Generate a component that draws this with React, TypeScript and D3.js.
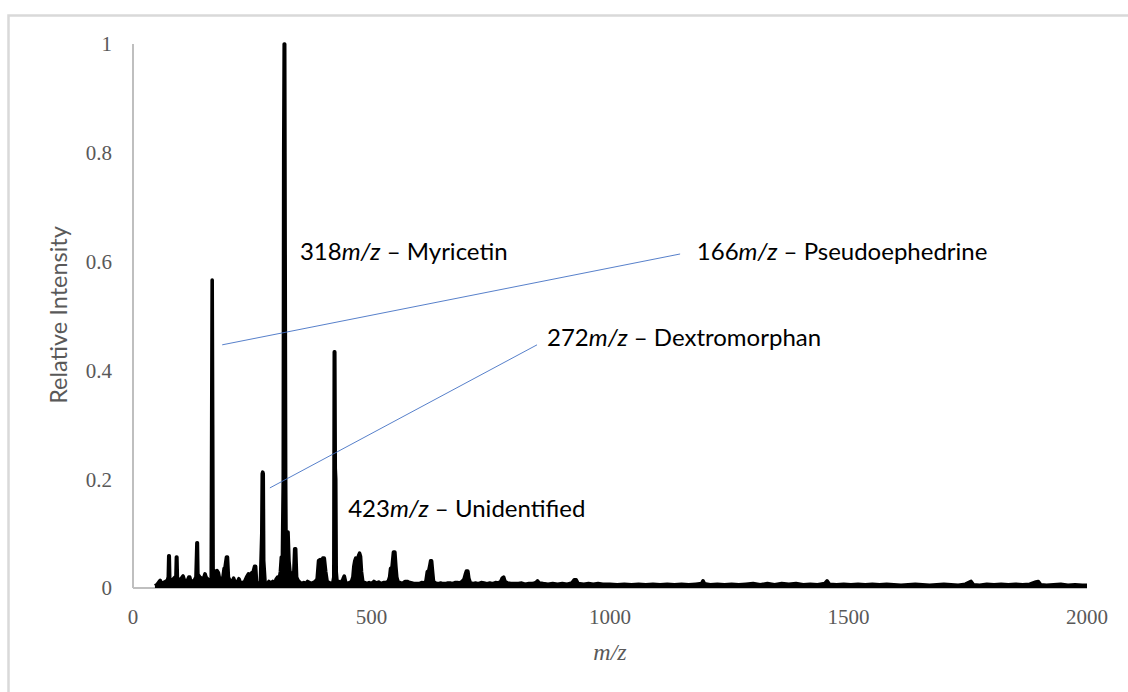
import React from "react";
import * as d3 from "d3";

// Mass spectrum, relative intensity vs m/z, split into three scan ranges.
const lowMassScan: [number, number][] = [
  [46, 0.004], [50, 0.006], [55, 0.012], [57, 0.014], [60, 0.008], [64, 0.01], [68, 0.012],
  [72, 0.014], [74, 0.02], [75, 0.059], [76, 0.059], [77, 0.018], [80, 0.012], [84, 0.016],
  [88, 0.02], [90, 0.02], [91, 0.057], [92, 0.057], [93, 0.02], [96, 0.014], [100, 0.016],
  [103, 0.02], [105, 0.022], [107, 0.016], [110, 0.012], [114, 0.014], [117, 0.02], [119, 0.02],
  [121, 0.012], [125, 0.012], [129, 0.015], [132, 0.02], [134, 0.083], [135, 0.083], [136, 0.025],
  [140, 0.02], [144, 0.018], [148, 0.018], [151, 0.026], [153, 0.02], [157, 0.016], [160, 0.012],
  [164, 0.01], [165, 0.3], [166, 0.566], [167, 0.3], [168, 0.02], [172, 0.03], [176, 0.032],
  [179, 0.028], [183, 0.01], [186, 0.012], [189, 0.022], [191, 0.036], [193, 0.038], [196, 0.057],
  [198, 0.057], [200, 0.02], [204, 0.012], [208, 0.012], [211, 0.018], [214, 0.01], [218, 0.01],
  [222, 0.017], [226, 0.008], [230, 0.01], [234, 0.012], [238, 0.02], [242, 0.026], [246, 0.024],
  [249, 0.028], [252, 0.03], [255, 0.04], [257, 0.04], [259, 0.012], [262, 0.008], [267, 0.006],
  [270, 0.1], [271, 0.21], [272, 0.213], [273, 0.21], [274, 0.05], [277, 0.008], [281, 0.006],
  [285, 0.012], [289, 0.008], [293, 0.012], [297, 0.008], [300, 0.016], [303, 0.02], [306, 0.014],
  [309, 0.03], [311, 0.057], [313, 0.04], [315, 0.2], [316, 0.8], [317, 1.0], [318, 1.0],
  [319, 0.6], [320, 0.2], [321, 0.06], [323, 0.103], [325, 0.103], [327, 0.05], [329, 0.03],
  [332, 0.027], [334, 0.02], [337, 0.025], [339, 0.072], [341, 0.072], [343, 0.02], [346, 0.014],
];

const midMassScan: [number, number][] = [
  [350, 0.01], [354, 0.008], [358, 0.01], [362, 0.008], [366, 0.012], [370, 0.01], [374, 0.008],
  [378, 0.01], [382, 0.012], [386, 0.016], [389, 0.05], [392, 0.052], [395, 0.048], [398, 0.055],
  [401, 0.055], [404, 0.03], [407, 0.012], [411, 0.01], [415, 0.008], [419, 0.01], [421, 0.02],
  [422, 0.434], [423, 0.434], [424, 0.22], [425, 0.2], [426, 0.03], [428, 0.01], [432, 0.012],
  [436, 0.01], [440, 0.016], [443, 0.022], [446, 0.01], [450, 0.008], [454, 0.01], [458, 0.012],
  [461, 0.02], [463, 0.04], [465, 0.05], [467, 0.055], [470, 0.05], [473, 0.06], [475, 0.064],
  [477, 0.058], [479, 0.03], [482, 0.01], [486, 0.01], [490, 0.008], [495, 0.01], [500, 0.008],
  [505, 0.012], [510, 0.009], [515, 0.011], [520, 0.008], [525, 0.01], [530, 0.01], [535, 0.012],
  [538, 0.02], [540, 0.036], [543, 0.038], [546, 0.066], [549, 0.066], [551, 0.04], [553, 0.02],
  [556, 0.01], [560, 0.01], [565, 0.008], [570, 0.012], [575, 0.012], [580, 0.01], [585, 0.009],
  [590, 0.008], [595, 0.008], [600, 0.008], [605, 0.01], [610, 0.009], [614, 0.012], [617, 0.03],
  [620, 0.032], [622, 0.04], [624, 0.05], [626, 0.05], [628, 0.03], [630, 0.012], [634, 0.009],
  [640, 0.008], [645, 0.009], [650, 0.008], [655, 0.008], [660, 0.009], [665, 0.009], [670, 0.008],
  [675, 0.01], [680, 0.01], [685, 0.009], [690, 0.012], [694, 0.016], [697, 0.026], [699, 0.031],
  [702, 0.031], [704, 0.018], [707, 0.01], [712, 0.008], [718, 0.009], [724, 0.008], [730, 0.01],
  [736, 0.009], [742, 0.008], [748, 0.009], [754, 0.008], [760, 0.01], [766, 0.009], [771, 0.012],
  [774, 0.018], [777, 0.02], [780, 0.012], [785, 0.009], [792, 0.008], [800, 0.008], [808, 0.008],
  [815, 0.009], [822, 0.007], [830, 0.008], [838, 0.008], [845, 0.01], [848, 0.013], [852, 0.009],
  [860, 0.008], [870, 0.007], [880, 0.008], [890, 0.007], [900, 0.008], [910, 0.007], [920, 0.009],
  [925, 0.015], [929, 0.015], [933, 0.008], [945, 0.007], [955, 0.008], [965, 0.007], [975, 0.008],
  [985, 0.007], [995, 0.007],
];

const highMassScan: [number, number][] = [
  [1000, 0.007], [1015, 0.006], [1030, 0.007], [1045, 0.006], [1060, 0.007], [1075, 0.006],
  [1090, 0.007], [1105, 0.006], [1120, 0.007], [1135, 0.006], [1150, 0.007], [1165, 0.006],
  [1180, 0.007], [1192, 0.008], [1195, 0.013], [1198, 0.008], [1210, 0.006], [1225, 0.007],
  [1240, 0.006], [1255, 0.007], [1270, 0.006], [1285, 0.007], [1300, 0.008], [1315, 0.006],
  [1330, 0.008], [1345, 0.006], [1360, 0.008], [1375, 0.007], [1390, 0.008], [1405, 0.006],
  [1420, 0.007], [1435, 0.006], [1450, 0.008], [1455, 0.013], [1460, 0.007], [1475, 0.006],
  [1490, 0.007], [1505, 0.006], [1520, 0.007], [1535, 0.006], [1550, 0.007], [1565, 0.006],
  [1580, 0.007], [1595, 0.006], [1610, 0.005], [1625, 0.006], [1640, 0.007], [1655, 0.006],
  [1670, 0.005], [1685, 0.006], [1700, 0.007], [1715, 0.006], [1730, 0.005], [1745, 0.007],
  [1757, 0.012], [1762, 0.006], [1775, 0.005], [1790, 0.007], [1805, 0.006], [1820, 0.007],
  [1835, 0.006], [1850, 0.007], [1865, 0.006], [1880, 0.007], [1893, 0.011], [1898, 0.012],
  [1903, 0.006], [1915, 0.005], [1930, 0.006], [1945, 0.007], [1960, 0.005], [1975, 0.006],
  [1990, 0.005], [2000, 0.005],
];

const xTicks = [0, 500, 1000, 1500, 2000];
const yTicks = [0, 0.2, 0.4, 0.6, 0.8, 1];

// Peak annotations: label anchor (mz, intensity) and optional leader line.
type PeakNote = {
  mz: string;
  name: string;
  labelAt: [number, number];
  leader?: [[number, number], [number, number]];
};
const peakNotes: PeakNote[] = [
  { mz: "318", name: "Myricetin", labelAt: [350, 0.603] },
  { mz: "166", name: "Pseudoephedrine", labelAt: [1182, 0.603], leader: [[187, 0.447], [1147, 0.614]] },
  { mz: "272", name: "Dextromorphan", labelAt: [868, 0.445], leader: [[287, 0.184], [847, 0.447]] },
  { mz: "423", name: "Unidentified", labelAt: [451, 0.131] },
];

const W = 1128;
const H = 692;
const plot = { left: 133, right: 1087, top: 44, bottom: 588 };

export default function App() {
  const x = d3.scaleLinear().domain([0, 2000]).range([plot.left, plot.right]);
  const y = d3.scaleLinear().domain([0, 1]).range([plot.bottom, plot.top]);
  const spectrum = [...lowMassScan, ...midMassScan, ...highMassScan];
  const line = d3
    .line<[number, number]>()
    .x((d) => x(d[0]))
    .y((d) => y(d[1]));
  const area = d3
    .area<[number, number]>()
    .x((d) => x(d[0]))
    .y0(y(0))
    .y1((d) => y(d[1]));

  const serif = "'Liberation Serif', 'Times New Roman', serif";
  const sans = "Lato, 'Open Sans', sans-serif";
  const grey = "#595959";

  return (
    <svg
      width={W}
      height={H}
      style={{ position: "absolute", left: 0, top: 0, background: "#fff" }}
    >
      <rect x={8.5} y={15.5} width={1140} height={700} fill="#fff" stroke="#d9d9d9" strokeWidth={2.5} />

      {/* axes */}
      <line x1={plot.left} x2={plot.left} y1={plot.top} y2={plot.bottom} stroke="#bfbfbf" strokeWidth={2} />
      <line x1={plot.left} x2={plot.right} y1={plot.bottom} y2={plot.bottom} stroke="#bfbfbf" strokeWidth={2} />

      {yTicks.map((t) => (
        <text key={t} x={112} y={y(t)} dy="0.35em" textAnchor="end" fontFamily={serif} fontSize={21} fill={grey}>
          {d3.format("~g")(t)}
        </text>
      ))}
      {xTicks.map((t) => (
        <text key={t} x={x(t)} y={624} textAnchor="middle" fontFamily={serif} fontSize={21} fill={grey}>
          {t}
        </text>
      ))}

      <text x={(plot.left + plot.right) / 2} y={660} textAnchor="middle" fontFamily={serif} fontStyle="italic" fontSize={24} fill={grey}>
        m/z
      </text>
      <text
        transform={`translate(67, ${315}) rotate(-90)`}
        textAnchor="middle"
        fontFamily={sans}
        fontSize={23.5}
        fill={grey}
      >
        Relative Intensity
      </text>

      {/* spectrum */}
      <path d={area(spectrum) ?? ""} fill="#000" stroke="none" />
      <path d={line(spectrum) ?? ""} fill="none" stroke="#000" strokeWidth={3.6} strokeLinejoin="round" />

      {/* peak annotations */}
      {peakNotes.map((n) =>
        n.leader ? (
          <line
            key={`l-${n.mz}`}
            x1={x(n.leader[0][0])}
            y1={y(n.leader[0][1])}
            x2={x(n.leader[1][0])}
            y2={y(n.leader[1][1])}
            stroke="#4472C4"
            strokeWidth={0.9}
          />
        ) : null
      )}
      {peakNotes.map((n) => (
        <text key={`t-${n.mz}`} x={x(n.labelAt[0])} y={y(n.labelAt[1])} fontFamily={sans} fontSize={24} fill="#000">
          {n.mz}
          <tspan fontStyle="italic">m/z</tspan>
          {" – "}
          {n.name}
        </text>
      ))}
    </svg>
  );
}
